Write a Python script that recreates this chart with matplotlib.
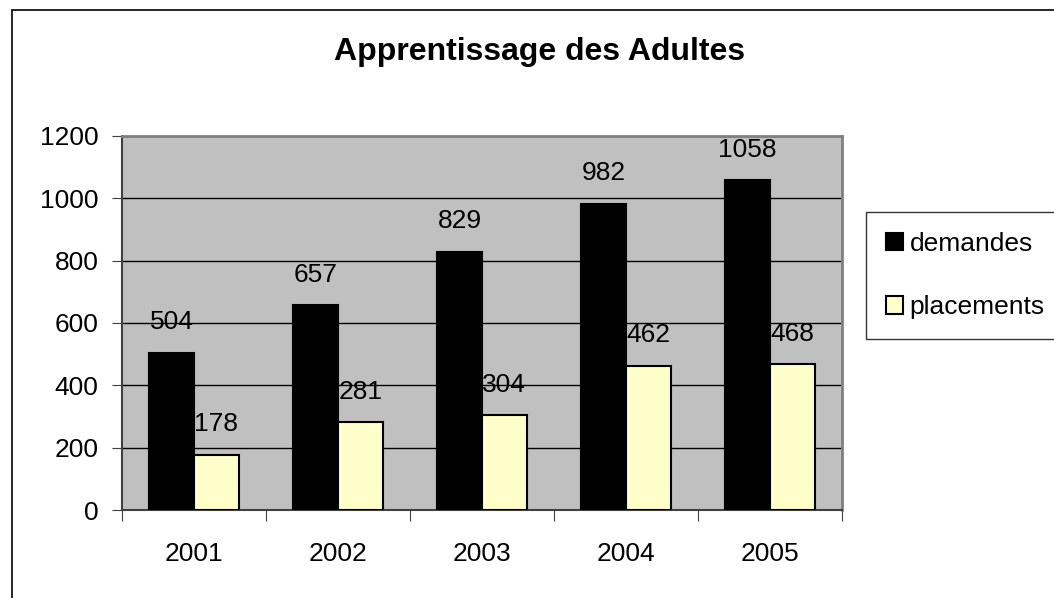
import matplotlib.pyplot as plt
import matplotlib.patches as mpatches
import numpy as np

plt.rcParams['font.family'] = ['Liberation Sans', 'DejaVu Sans']

annees = ["2001", "2002", "2003", "2004", "2005"]
demandes = [504, 657, 829, 982, 1058]
placements = [178, 281, 304, 462, 468]

fig = plt.figure(figsize=(10.54, 5.98), dpi=100)

# cadre extérieur (coupé à droite et en bas)
fig.patches.append(mpatches.Rectangle((12 / 1054, -0.1), 1.2, 1 - 10 / 598 + 0.1,
                                      transform=fig.transFigure, fill=False,
                                      edgecolor="black", linewidth=1.2))

ax = fig.add_axes([122 / 1054, 1 - 510 / 598, 720 / 1054, 374 / 598])
ax.set_facecolor("#c0c0c0")

x = np.arange(len(annees))
w = 0.31
b1 = ax.bar(x - w / 2, demandes, w, color="black", edgecolor="black", linewidth=1.5, zorder=3)
b2 = ax.bar(x + w / 2, placements, w, color="#ffffcc", edgecolor="black", linewidth=1.5, zorder=3)

for rects, vals in ((b1, demandes), (b2, placements)):
    for r, v in zip(rects, vals):
        ax.annotate(str(v), (r.get_x() + r.get_width() / 2, v), xytext=(0, 22),
                    textcoords="offset points", ha="center", va="center",
                    fontsize=19, zorder=4)

ax.set_xlim(-0.5, len(annees) - 0.5)
ax.set_ylim(0, 1200)
ax.set_yticks(range(0, 1201, 200))
ax.yaxis.grid(True, color="black", linewidth=1)
ax.set_axisbelow(True)

ax.set_xticks(np.arange(-0.5, len(annees), 1))
ax.set_xticklabels([])
ax.set_xticks(x, minor=True)
ax.set_xticklabels(annees, minor=True)
ax.tick_params(axis="x", which="major", direction="out", length=8, color="#404040")
ax.tick_params(axis="x", which="minor", length=0, pad=23, labelsize=19)
ax.tick_params(axis="y", direction="out", length=7, pad=10, labelsize=19, color="#404040")

for s in ("top", "right"):
    ax.spines[s].set_color("#808080")
    ax.spines[s].set_linewidth(2)
for s in ("left", "bottom"):
    ax.spines[s].set_color("#404040")
    ax.spines[s].set_linewidth(1.5)

fig.text(540 / 1054, 1 - 52 / 598, "Apprentissage des Adultes", ha="center", va="center",
         fontsize=23, fontweight="bold")

leg = fig.legend([b1[0], b2[0]], ["demandes", "placements"],
                 loc="upper left", bbox_to_anchor=(866 / 1054, 1 - 212 / 598),
                 frameon=True, fancybox=False, fontsize=19, handlelength=0.65,
                 handleheight=0.65, handletextpad=0.25, labelspacing=1.5,
                 borderpad=0.75, borderaxespad=0)
leg._legend_box.align = "left"
leg.get_frame().set_edgecolor("black")
leg.get_frame().set_linewidth(1)

fig.savefig("out.png", dpi=100)
